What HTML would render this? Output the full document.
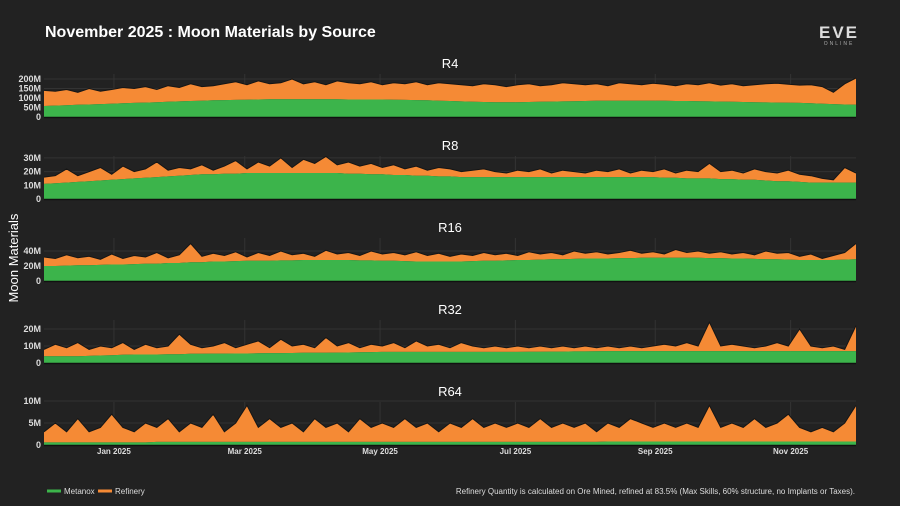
<!DOCTYPE html>
<html><head><meta charset="utf-8"><style>
html,body{margin:0;padding:0;background:#222222;}
#wrap{position:relative;width:900px;height:506px;overflow:hidden;font-family:"Liberation Sans",sans-serif;}
svg text{font-family:"Liberation Sans",sans-serif;}
</style></head><body>
<div id="wrap">
<svg id="chart" width="900" height="506">
<text x="45" y="37" fill="#fff" font-size="16" font-weight="bold">November 2025 : Moon Materials by Source</text>
<g>
<text x="839" y="38" fill="#ddd" font-size="17" font-weight="bold" text-anchor="middle" letter-spacing="2">EVE</text>
<text x="839" y="45" fill="#aaa" font-size="5" text-anchor="middle" letter-spacing="2">ONLINE</text>
</g>
<text x="18" y="258" fill="#fff" font-size="13" text-anchor="middle" transform="rotate(-90 18 258)">Moon Materials</text>
<g>
<line x1="47" y1="491" x2="61" y2="491" stroke="#3cb44b" stroke-width="3"/>
<text x="64" y="494" fill="#ddd" font-size="8">Metanox</text>
<line x1="98" y1="491" x2="112" y2="491" stroke="#f58a35" stroke-width="3"/>
<text x="115" y="494" fill="#ddd" font-size="8">Refinery</text>
</g>
<text x="855" y="494" fill="#ddd" font-size="8" text-anchor="end">Refinery Quantity is calculated on Ore Mined, refined at 83.5% (Max Skills, 60% structure, no Implants or Taxes).</text>
</svg>
</div>
<script>
const panelNames = ["R4","R8","R16","R32","R64"];
const monthLabels = ["Jan 2025","Mar 2025","May 2025","Jul 2025","Sep 2025","Nov 2025"];
const monthDayIndex = [31,89,149,209,271,331];
const r4Metanox = [58,60,62,64,66,68,70,72,74,76,78,80,82,84,86,88,89,90,91,92,93,93,93,93,93,93,93,92,92,92,92,91,90,89,88,86,84,82,80,79,78,78,78,79,80,81,82,83,84,85,85,85,85,85,85,85,84,84,83,82,81,80,79,78,77,76,75,74,72,70,68,66,64];
const r4Total = [140,135,145,130,150,135,145,155,150,160,145,165,155,175,160,165,175,185,170,190,175,180,200,175,185,170,190,180,175,185,170,180,175,185,170,180,175,170,165,175,170,160,170,175,165,170,180,175,170,175,165,180,175,170,178,172,165,175,170,180,168,175,165,170,175,178,172,168,170,160,130,175,205];
const r8Metanox = [11,11.5,12,12.5,13,13.5,14,14.5,15,15.5,16,16.5,17,17.5,18,18,18.5,18.5,19,19,19,19,19,19,19,19,19,18.5,18.5,18,18,17.5,17.5,17,17,16.5,16.5,16,16,16,16,16,16,16,16,16,16,16,16,16,16,16,16,16,16,15.5,15.5,15,15,15,14.5,14.5,14,14,13.5,13,13,12.5,12,12,12,12,12];
const r8Total = [16,17,22,17,20,23,18,24,20,22,27,21,23,22,25,21,24,28,22,27,24,30,23,29,26,31,25,27,24,26,23,25,22,24,21,23,22,20,21,22,20,19,21,20,22,19,21,20,19,21,20,22,19,21,20,22,19,21,20,26,20,21,19,22,20,19,21,18,17,15,14,23,19];
const r16Metanox = [20,20,20.5,21,21,21.5,22,22,22.5,23,23,24,24,25,25,26,26,26.5,27,27,27,27.5,27.5,28,28,28,28,28,27.5,27.5,27,27,26.5,26,26,26,26,26,26.5,27,27,27.5,28,28,28.5,29,29,29.5,30,30,30,30.5,30.5,31,31,31,31,31,31,30.5,30.5,30,30,29.5,29,29,28.5,28,28,28,28,28.5,29];
const r16Total = [32,30,35,31,33,29,36,30,34,32,38,31,35,50,33,37,34,39,32,38,34,40,35,37,33,41,36,38,34,40,36,38,35,39,34,37,33,36,34,38,35,37,34,39,36,38,35,40,37,39,36,38,41,37,39,36,42,38,40,37,39,36,38,35,40,37,38,33,36,30,34,38,50];
const r32Metanox = [4,4,4,4,4.2,4.4,4.6,4.8,5,5,5,5.2,5.2,5.4,5.4,5.5,5.5,5.6,5.6,5.7,5.8,5.8,5.9,6,6,6,6.1,6.2,6.3,6.4,6.5,6.5,6.5,6.5,6.5,6.5,6.5,6.5,6.5,6.5,6.5,6.5,6.5,6.6,6.6,6.7,6.7,6.8,6.8,6.9,7,7,7,7,7,7,7,7,7,7,7,7,7,7,7,7,7,7,7,7,7,7,7];
const r32Total = [8,11,9,12,8,10,9,12,8,11,9,10,17,11,9,10,12,9,11,13,9,14,10,11,9,15,10,12,9,11,10,12,9,13,10,11,9,12,10,9,10,9,10,9,10,9,10,9,10,9,10,9,10,9,10,11,10,12,10,24,10,11,10,9,10,12,10,20,10,9,10,8,22];
const r64Metanox = [0.6,0.6,0.6,0.6,0.6,0.6,0.6,0.6,0.6,0.6,0.7,0.7,0.7,0.7,0.7,0.7,0.7,0.7,0.7,0.7,0.7,0.7,0.7,0.7,0.7,0.7,0.7,0.7,0.7,0.7,0.7,0.7,0.7,0.7,0.7,0.7,0.7,0.7,0.7,0.7,0.7,0.7,0.7,0.7,0.7,0.7,0.7,0.7,0.7,0.7,0.8,0.8,0.8,0.8,0.8,0.8,0.8,0.8,0.8,0.8,0.8,0.8,0.8,0.8,0.8,0.8,0.8,0.8,0.8,0.8,0.8,0.8,0.8];
const r64Total = [3,5,3,6,3,4,7,4,3,5,4,6,3,5,4,7,3,5,9,4,6,4,5,3,6,4,5,3,6,4,5,4,6,4,5,3,5,4,6,4,5,4,5,4,6,4,5,4,5,3,5,4,6,5,4,5,4,5,4,9,4,5,4,6,4,5,7,4,3,4,3,5,9];
const tickValues = [[0,50,100,150,200],[0,10,20,30],[0,20,40],[0,10,20],[0,5,10]];
const tickLabels = [["0","50M","100M","150M","200M"],["0","10M","20M","30M"],["0","20M","40M"],["0","10M","20M"],["0","5M","10M"]];
const metanoxSeries = [r4Metanox,r8Metanox,r16Metanox,r32Metanox,r64Metanox];
const totalSeries = [r4Total,r8Total,r16Total,r32Total,r64Total];

const NS="http://www.w3.org/2000/svg";
const svg=document.getElementById('chart');
const X0=44,X1=856,DAYS=360,STEP=5;
const bases=[117,199,281,363,445];
const scales=[0.19,1.37,0.75,1.7,4.4];
const tops=[74,156,238,320,402];
function xDay(d){return X0+(X1-X0)*d/DAYS;}
function mk(tag,attrs){const e=document.createElementNS(NS,tag);for(const k in attrs)e.setAttribute(k,attrs[k]);svg.appendChild(e);return e;}
panelNames.forEach((name,p)=>{
  const yS=v=>bases[p]-v*scales[p];
  const t=mk('text',{x:450,y:tops[p]-6,fill:'#fff','font-size':13,'text-anchor':'middle'});
  t.textContent=name;
  
  
  monthDayIndex.forEach((d,i)=>{
    const g=mk('line',{x1:xDay(d),x2:xDay(d),y1:tops[p],y2:bases[p],stroke:'#333','stroke-width':1});
    
    
  });
  tickValues[p].forEach((v,i)=>{
    if(v>0){const g=mk('line',{x1:X0,x2:X1,y1:yS(v),y2:yS(v),stroke:'#333','stroke-width':1});
    
    }
    const tl=mk('text',{x:41,y:yS(v)+3,fill:'#ddd','font-size':9,'font-weight':'bold','text-anchor':'end'});
    tl.textContent=tickLabels[p][i];
    
    
  });
  const met=metanoxSeries[p],tot=totalSeries[p];
  const n=Math.min(met.length,tot.length);
  let top='',bot='';
  for(let i=0;i<n;i++){const x=xDay(Math.min(i*STEP,DAYS));top+=(i?'L':'M')+x.toFixed(1)+','+yS(tot[i]).toFixed(1);}
  for(let i=n-1;i>=0;i--){const x=xDay(Math.min(i*STEP,DAYS));bot+='L'+x.toFixed(1)+','+yS(met[i]).toFixed(1);}
  const ref=mk('path',{d:top+bot+'Z',fill:'#f58a35'});
  
  
  let mp='M'+X0+','+bases[p];
  for(let i=0;i<n;i++){const x=xDay(Math.min(i*STEP,DAYS));mp+='L'+x.toFixed(1)+','+yS(met[i]).toFixed(1);}
  mp+='L'+xDay(Math.min((n-1)*STEP,DAYS)).toFixed(1)+','+bases[p]+'Z';
  const ma=mk('path',{d:mp,fill:'#3cb44b'});
  
  
  const ol=mk('path',{d:top,fill:'none',stroke:'#151515','stroke-width':1});
  
  
  const ax=mk('line',{x1:X0,x2:X1,y1:bases[p]+0.5,y2:bases[p]+0.5,stroke:'#111','stroke-width':1.5});
  
  
});
monthLabels.forEach((m,i)=>{
  const t=mk('text',{x:xDay(monthDayIndex[i]),y:454,fill:'#ddd','font-size':8,'font-weight':'bold','text-anchor':'middle'});
  t.textContent=m;
  
  
});
</script>
</body></html>
